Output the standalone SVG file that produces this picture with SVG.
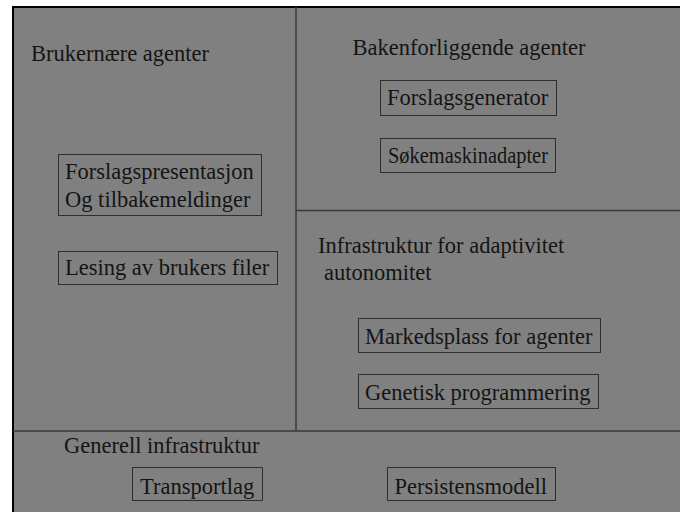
<svg xmlns="http://www.w3.org/2000/svg" width="680" height="512" viewBox="0 0 680 512">
  <style>
    .t { font-family: "Liberation Serif", "Times New Roman", serif; font-size: 22.5px; fill: #141414; }
    .box { fill: none; stroke: #2e2e2e; stroke-width: 1; }
    .div { stroke: #3a3a3a; stroke-width: 1.5; fill: none; }
  </style>
  <rect width="680" height="512" fill="#ffffff"/>
  <!-- outer frame, running past the right and bottom edges -->
  <rect x="13" y="7" width="690" height="520" fill="#808080" stroke="#000000" stroke-width="2"/>

  <g id="connectors">
    <line class="div" x1="296" y1="7" x2="296" y2="431"/>
    <line class="div" x1="296" y1="210.5" x2="680" y2="210.5"/>
    <line class="div" x1="13" y1="431" x2="680" y2="431"/>
  </g>

  <g id="brukernaere">
    <text class="t" x="31" y="61">Brukernære agenter</text>
  </g>
  <g id="forslagspresentasjon">
    <rect class="box" x="58.5" y="154.5" width="203" height="61"/>
    <text class="t" x="65" y="179">Forslagspresentasjon</text>
    <text class="t" x="65" y="206.5">Og tilbakemeldinger</text>
  </g>
  <g id="lesing">
    <rect class="box" x="58.5" y="251.5" width="219" height="33"/>
    <text class="t" x="65" y="275">Lesing av brukers filer</text>
  </g>

  <g id="bakenforliggende">
    <text class="t" x="352.5" y="55">Bakenforliggende agenter</text>
  </g>
  <g id="forslagsgenerator">
    <rect class="box" x="380.5" y="80.5" width="176" height="35"/>
    <text class="t" x="387" y="105">Forslagsgenerator</text>
  </g>
  <g id="sokemaskinadapter">
    <rect class="box" x="380.5" y="138.5" width="175" height="34"/>
    <text class="t" x="388" y="163" textLength="160" lengthAdjust="spacingAndGlyphs">Søkemaskinadapter</text>
  </g>

  <g id="infrastruktur-adaptivitet">
    <text class="t" x="318" y="252.5">Infrastruktur for adaptivitet</text>
    <text class="t" x="324" y="279.5">autonomitet</text>
  </g>
  <g id="markedsplass">
    <rect class="box" x="358.5" y="318.5" width="242" height="34"/>
    <text class="t" x="365" y="344">Markedsplass for agenter</text>
  </g>
  <g id="genetisk">
    <rect class="box" x="358.5" y="374.5" width="240" height="34"/>
    <text class="t" x="365" y="400">Genetisk programmering</text>
  </g>

  <g id="generell-infrastruktur">
    <text class="t" x="64" y="453">Generell infrastruktur</text>
  </g>
  <g id="transportlag">
    <rect class="box" x="132.5" y="467.5" width="130" height="33"/>
    <text class="t" x="140" y="494">Transportlag</text>
  </g>
  <g id="persistensmodell">
    <rect class="box" x="387.5" y="467.5" width="168" height="33"/>
    <text class="t" x="394.5" y="494">Persistensmodell</text>
  </g>
</svg>
